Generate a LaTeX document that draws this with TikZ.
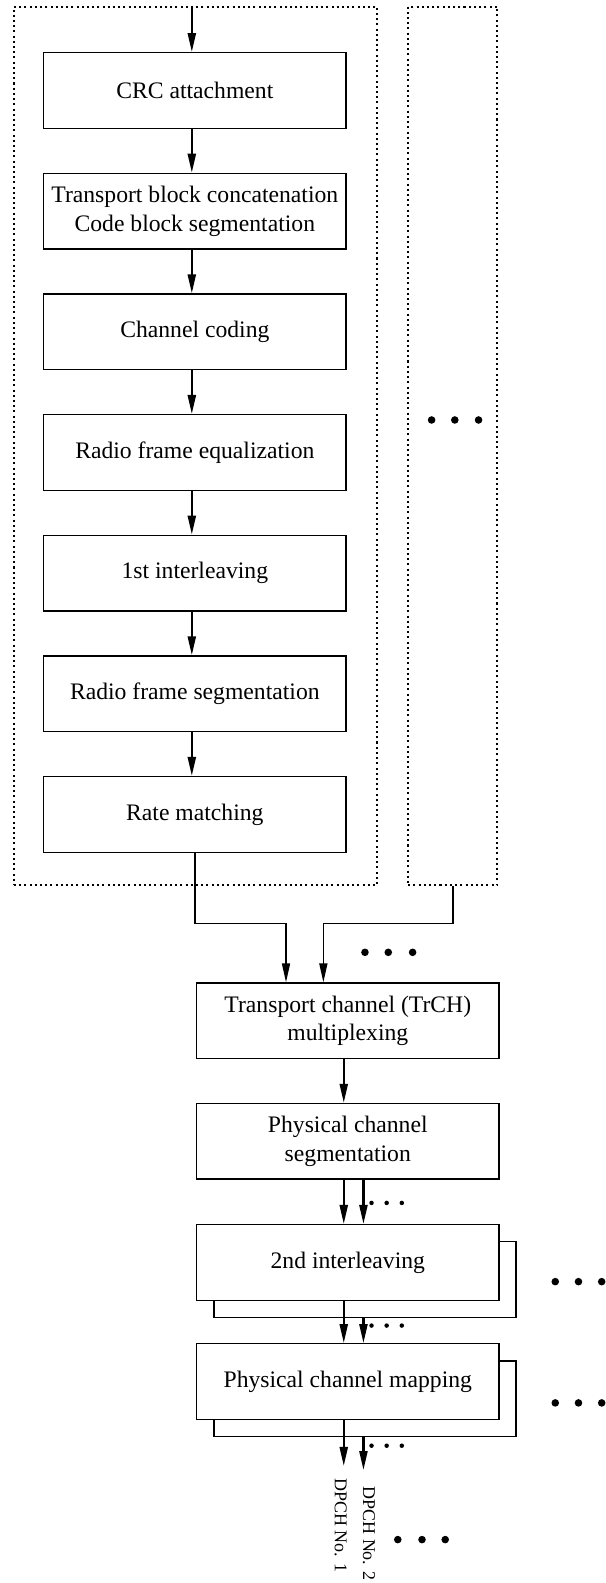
\documentclass[tikz,border=0pt]{standalone}
\usepackage{fontspec}
\setmainfont{Liberation Serif}
\usetikzlibrary{arrows.meta,shadows,calc}

\begin{document}
\begin{tikzpicture}[x=0.015cm, y=-0.015cm,
        blk/.style={draw, line width=0.6pt, fill=white, align=center, inner sep=1pt,
            minimum width=4.49cm, minimum height=1.125cm},
        grp/.style={draw, line width=0.85pt, dash pattern=on 0.85pt off 1.35pt,
            inner sep=0pt, minimum height=13.05cm},
        stack/.style={copy shadow={shadow xshift=0.255cm, shadow yshift=-0.255cm, draw=black, fill=white}},
        arr/.style={-{Triangle[length=8pt,width=3.4pt]}, line width=0.9pt},
        tarr/.style={-{Triangle[length=8pt,width=3.4pt]}, line width=0.6pt},
        dpch/.style={rotate=-90, anchor=west, inner sep=0pt, font=\fontsize{7.6}{9}\selectfont}]
        \useasboundingbox (0,0) rectangle (600,1568);

        % 设置虚线框
        \node[grp, minimum width=5.3985cm] (g1) at (193.75,441.55) {};
        \node[grp, minimum width=1.323cm] (g2) at (448.5,441.55) {};

        % 设置节点
        \node[blk] (crc) at (193,89.7) {CRC attachment};
        \node[blk] (tbc) at (193,209.2) {Transport block concatenation\\Code block segmentation};
        \node[blk] (cc) at (193,328.7) {Channel coding};
        \node[blk] (rfe) at (193,448.2) {Radio frame equalization};
        \node[blk] (il1) at (193,567.7) {1st interleaving};
        \node[blk] (rfs) at (193,687.2) {Radio frame segmentation};
        \node[blk] (rm) at (193,806.7) {Rate matching};
        \node[blk] (mux) at (344.5,1011.2) {Transport channel (TrCH)\\multiplexing};
        \node[blk] (pcs) at (344.5,1130.5) {Physical channel\\segmentation};
        \node[blk, stack] (il2) at (344.5,1250.5) {2nd interleaving};
        \node[blk, stack] (pcm) at (344.5,1368.5) {Physical channel mapping};
        \node[dpch] (d1) at (337.5,1464) {DPCH No. 1};
        \node[dpch] (d2) at (365.5,1472) {DPCH No. 2};

        % 辅助坐标
        \coordinate (a0) at (190,0);
        \coordinate (b1) at (283.3,914.5);
        \coordinate (b2) at (320.3,914.5);
        \coordinate (c1) at (340.5,0);
        \coordinate (c2) at (360,0);

        % 画上半部分的箭头
        \draw[arr] (g1.north -| a0) -- (crc.north -| a0);
        \draw[arr] (crc.south -| a0) -- (tbc.north -| a0);
        \draw[arr] (tbc.south -| a0) -- (cc.north -| a0);
        \draw[arr] (cc.south -| a0) -- (rfe.north -| a0);
        \draw[arr] (rfe.south -| a0) -- (il1.north -| a0);
        \draw[arr] (il1.south -| a0) -- (rfs.north -| a0);
        \draw[arr] (rfs.south -| a0) -- (rm.north -| a0);

        % 复用
        \draw[tarr] (rm.south) |- (b1) -- (mux.north -| b1);
        \draw[tarr] (g2.south) |- (b2) -- (mux.north -| b2);

        % 画下半部分的箭头
        \draw[arr] (mux.south -| c1) -- (pcs.north -| c1);
        \draw[arr] (pcs.south -| c1) -- (il2.north -| c1);
        \draw[arr] (pcs.south -| c2) -- (il2.north -| c2);
        \draw[arr] (il2.south -| c1) -- (pcm.north -| c1);
        \draw[arr] ($(il2.south -| c2)+(0,17)$) -- (pcm.north -| c2);
        \draw[arr] (pcm.south -| c1) -- ($(d1.west -| c1)+(0,-12)$);
        \draw[arr] ($(pcm.south -| c2)+(0,17)$) -- ($(d2.west -| c2)+(0,-16)$);

        % 省略号
        \fill (427.5,416) circle (1.6pt) (450.5,416) circle (1.6pt) (474,416) circle (1.6pt);
        \fill (361.5,943.3) circle (1.6pt) (384.6,943.3) circle (1.6pt) (408.7,943.3) circle (1.6pt);
        \fill (368,1191.5) circle (0.95pt) (383,1191.5) circle (0.95pt) (398,1191.5) circle (0.95pt);
        \fill (368,1313) circle (0.95pt) (383,1313) circle (0.95pt) (398,1313) circle (0.95pt);
        \fill (368,1432) circle (0.95pt) (383,1432) circle (0.95pt) (398,1432) circle (0.95pt);
        \fill (550,1269.5) circle (1.6pt) (573,1269.5) circle (1.6pt) (596,1269.5) circle (1.6pt);
        \fill (550,1389.6) circle (1.6pt) (573,1389.6) circle (1.6pt) (596,1389.6) circle (1.6pt);
        \fill (394,1525) circle (1.6pt) (418,1525) circle (1.6pt) (441,1525) circle (1.6pt);
    \end{tikzpicture}
\end{document}
